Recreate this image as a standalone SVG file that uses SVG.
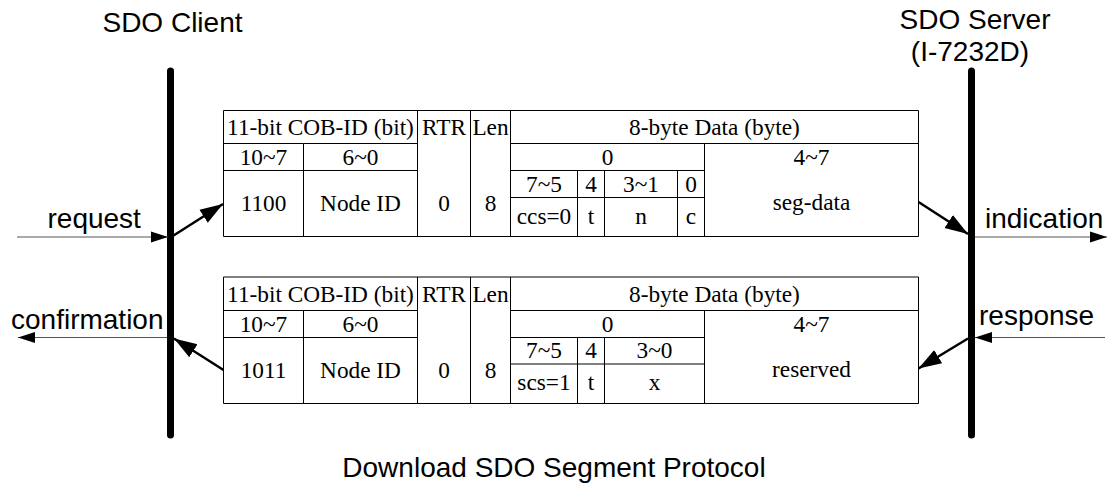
<svg xmlns="http://www.w3.org/2000/svg" width="1107" height="486" viewBox="0 0 1107 486">
<style>
.lbl{font-family:"Liberation Sans",Arial,sans-serif;font-size:28px;fill:#000}
.t{font-family:"Liberation Serif","Times New Roman",serif;font-size:23.3px;fill:#000;text-anchor:middle}
.grid{stroke:#000;stroke-width:1;fill:none}
.life{stroke:#000;stroke-width:7;stroke-linecap:round}
.thin{stroke:#555;stroke-width:1.2;fill:none;marker-end:url(#ah-thin)}
.bold{stroke:#000;stroke-width:2.5;fill:none;marker-end:url(#ah-bold)}
</style>
<defs>
<marker id="ah-thin" markerUnits="userSpaceOnUse" markerWidth="18" markerHeight="12" refX="17" refY="6" orient="auto"><path d="M0,0.5 L17,6 L0,11.5 z" fill="#000"/></marker>
<marker id="ah-bold" markerUnits="userSpaceOnUse" markerWidth="24" markerHeight="17" refX="23" refY="8.5" orient="auto"><path d="M0,0.8 L23,8.5 L0,16.2 z" fill="#000"/></marker>
</defs>
<rect width="1107" height="486" fill="#fff"/>

<g id="client">
<text class="lbl" x="172.5" y="31.5" text-anchor="middle">SDO Client</text>
<line class="life" x1="170.5" y1="71" x2="170.5" y2="435"/>
</g>
<g id="server">
<text class="lbl" x="975" y="28.5" text-anchor="middle">SDO Server</text>
<text class="lbl" x="970" y="61" text-anchor="middle">(I-7232D)</text>
<line class="life" x1="971.5" y1="71" x2="971.5" y2="435"/>
</g>

<g id="request-frame">
<path class="grid" d="M223.5,110.5H918.5V236.5H223.5Z M223.5,143.5H303.5 M303.5,143.5H417.5 M510.5,143.5H918.5 M223.5,170.5H417.5 M510.5,170.5H704.5 M510.5,197.5H704.5 M303.5,143.5V236.5 M417.5,110.5V236.5 M470.5,110.5V236.5 M510.5,110.5V236.5 M704.5,143.5V236.5 M577.5,170.5V236.5 M604.5,170.5V236.5 M677.5,170.5V236.5"/>
<text class="t" x="320.5" y="134.5">11-bit COB-ID (bit)</text>
<text class="t" x="444" y="134.5">RTR</text>
<text class="t" x="490.5" y="134.5">Len</text>
<text class="t" x="714.5" y="134.5">8-byte Data (byte)</text>
<text class="t" x="263.5" y="164.5">10~7</text>
<text class="t" x="360.5" y="164.5">6~0</text>
<text class="t" x="607.5" y="164.5">0</text>
<text class="t" x="811.5" y="164.5">4~7</text>
<text class="t" x="263.5" y="211">1100</text>
<text class="t" x="360.5" y="211">Node ID</text>
<text class="t" x="444" y="211">0</text>
<text class="t" x="490.5" y="211">8</text>
<text class="t" x="544" y="191.5">7~5</text>
<text class="t" x="591" y="191.5">4</text>
<text class="t" x="641" y="191.5">3~1</text>
<text class="t" x="691" y="191.5">0</text>
<text class="t" x="544" y="223.5">ccs=0</text>
<text class="t" x="591" y="223.5">t</text>
<text class="t" x="641" y="223.5">n</text>
<text class="t" x="691" y="223.5">c</text>
<text class="t" x="811.5" y="209.5">seg-data</text>
</g>

<g id="response-frame">
<path class="grid" d="M223.5,277H918.5V403.5H223.5Z M223.5,310.5H417.5 M510.5,310.5H918.5 M223.5,337.5H417.5 M510.5,337.5H704.5 M510.5,364H704.5 M303.5,310.5V403.5 M417.5,277V403.5 M470.5,277V403.5 M510.5,277V403.5 M704.5,310.5V403.5 M577.5,337.5V403.5 M604.5,337.5V403.5"/>
<text class="t" x="320.5" y="301.5">11-bit COB-ID (bit)</text>
<text class="t" x="444" y="301.5">RTR</text>
<text class="t" x="490.5" y="301.5">Len</text>
<text class="t" x="714.5" y="301.5">8-byte Data (byte)</text>
<text class="t" x="263.5" y="331.5">10~7</text>
<text class="t" x="360.5" y="331.5">6~0</text>
<text class="t" x="607.5" y="331.5">0</text>
<text class="t" x="811.5" y="331.5">4~7</text>
<text class="t" x="263.5" y="377.5">1011</text>
<text class="t" x="360.5" y="377.5">Node ID</text>
<text class="t" x="444" y="377.5">0</text>
<text class="t" x="490.5" y="377.5">8</text>
<text class="t" x="544" y="357.5">7~5</text>
<text class="t" x="591" y="357.5">4</text>
<text class="t" x="654.5" y="357.5">3~0</text>
<text class="t" x="544" y="389.5">scs=1</text>
<text class="t" x="591" y="389.5">t</text>
<text class="t" x="654.5" y="389.5">x</text>
<text class="t" x="811.5" y="376.5">reserved</text>
</g>

<g id="connectors">
<line class="thin" x1="17" y1="237" x2="168" y2="237"/>
<line class="bold" x1="172" y1="236.5" x2="223" y2="204"/>
<line class="bold" x1="918.5" y1="202" x2="968" y2="234"/>
<line class="thin" x1="975" y1="237" x2="1107" y2="237"/>
<line class="thin" x1="167" y1="337.5" x2="18" y2="337.5"/>
<line class="bold" x1="223.5" y1="370" x2="174" y2="338.5"/>
<line class="thin" x1="1105" y1="337.5" x2="975" y2="337.5"/>
<line class="bold" x1="968" y1="338.5" x2="918.5" y2="368.5"/>
</g>

<g id="labels">
<text class="lbl" x="47.5" y="228">request</text>
<text class="lbl" x="985" y="228">indication</text>
<text class="lbl" x="11" y="329">confirmation</text>
<text class="lbl" x="979" y="325">response</text>
<text class="lbl" x="554" y="476.5" text-anchor="middle">Download SDO Segment Protocol</text>
</g>
</svg>
